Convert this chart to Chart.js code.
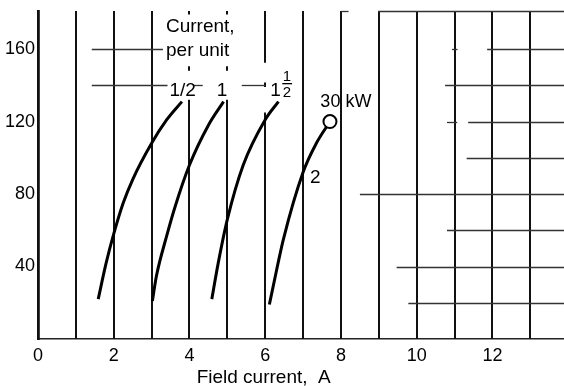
<!DOCTYPE html>
<html>
<head>
<meta charset="utf-8">
<script src="https://cdn.jsdelivr.net/npm/chart.js@4/dist/chart.umd.min.js"></script>
<style>
  html, body { margin: 0; padding: 0; background: #fff; overflow: hidden; }
  #wrap { position: relative; width: 564px; height: 386px; }
  #myChart { display: block; }
</style>
</head>
<body>
<div id="wrap"><canvas id="myChart"></canvas></div>
<script>
// curves, one per current (per unit); x = field current A, y = output
var halfX = [1.59, 1.8, 2.0, 2.25, 2.5, 3.0, 3.4, 3.8];
var halfY = [22, 42, 58, 75, 88, 108, 121, 131];
var oneX = [3.02, 3.13, 3.40, 3.62, 4.0, 4.5, 4.9];
var oneY = [21, 35, 57, 73, 96, 118, 131];
var oneHalfX = [4.59, 4.76, 5.0, 5.42, 6.0, 6.35];
var oneHalfY = [22, 42, 66, 96, 121, 131];
var twoX = [6.11, 6.29, 6.48, 7.0, 7.35, 7.71];
var twoY = [19, 37, 55, 92, 108, 120];
var ratedX = [7.71]; // 30 kW point
var ratedY = [120];

var xMin = 0, xMax = 13.89;
var yMin = 0, yMax = 181;
var xTicks = [0, 2, 4, 6, 8, 10, 12];
var yTicks = [40, 80, 120, 160];

// broken grid of the original drawing: [y, xFrom, xTo] and [x, yFrom, yTo]
var hGrid = [
  [160, 1.42, 3.3], [160, 10.93, 11.08], [160, 11.86, xMax],
  [140, 1.42, 3.42], [140, 4.1, 4.35], [140, 5.38, 6.0], [140, 10.75, xMax],
  [120, 10.8, 11.07], [120, 11.36, xMax],
  [100, 11.32, xMax],
  [80, 8.5, xMax],
  [60, 10.8, xMax],
  [40, 9.47, xMax],
  [20, 9.78, xMax],
  [yMax, 8.0, 8.2], [yMax, 8.98, xMax]
];
var vGrid = [
  [1, 0, yMax], [2, 0, yMax], [3, 0, yMax],
  [4, 0, 132], [4, 148, 150.5], [4, 179, yMax],
  [5, 0, 132], [5, 148, 150.5], [5, 179, yMax],
  [6, 0, 125], [6, 139, 141.5], [6, 152.5, yMax],
  [7, 0, yMax], [8, 0, yMax], [9, 0, yMax], [10, 0, yMax],
  [11, 0, yMax], [12, 0, yMax], [13, 0, yMax]
];

var FONT = "'Liberation Sans', Arial, sans-serif";

function pts(xs, ys) {
  return xs.map(function (x, i) { return { x: x, y: ys[i] }; });
}

function curve(xs, ys) {
  return {
    data: pts(xs, ys),
    showLine: true,
    borderColor: '#000',
    borderWidth: 3,
    pointRadius: 0,
    cubicInterpolationMode: 'monotone',
    order: 2
  };
}

var gridPlugin = {
  id: 'brokenGrid',
  beforeDatasetsDraw: function (chart) {
    var ctx = chart.ctx, xs = chart.scales.x, ys = chart.scales.y;
    ctx.save();
    ctx.strokeStyle = '#111';
    ctx.lineWidth = 2;
    vGrid.forEach(function (g) {
      var px = Math.round(xs.getPixelForValue(g[0]));
      ctx.beginPath();
      ctx.moveTo(px, ys.getPixelForValue(g[1]));
      ctx.lineTo(px, ys.getPixelForValue(g[2]));
      ctx.stroke();
    });
    ctx.strokeStyle = '#333';
    ctx.lineWidth = 1.3;
    hGrid.forEach(function (g) {
      var py = Math.round(ys.getPixelForValue(g[0])) + 0.5;
      ctx.beginPath();
      ctx.moveTo(xs.getPixelForValue(g[1]), py);
      ctx.lineTo(xs.getPixelForValue(g[2]), py);
      ctx.stroke();
    });
    ctx.restore();
  },
  afterDatasetsDraw: function (chart) {
    var ctx = chart.ctx, xs = chart.scales.x, ys = chart.scales.y;
    function X(v) { return xs.getPixelForValue(v); }
    function Y(v) { return ys.getPixelForValue(v); }
    ctx.save();
    ctx.fillStyle = '#000';
    ctx.textBaseline = 'alphabetic';
    ctx.font = '19px ' + FONT;
    ctx.textAlign = 'left';
    ctx.fillText('Current,', X(3.38), Y(169.2));
    ctx.fillText('per unit', X(3.38), Y(156));
    ctx.textAlign = 'center';
    ctx.fillText('1/2', X(3.82), Y(133.9));
    ctx.fillText('1', X(4.86), Y(133.9));
    ctx.fillText('1', X(6.27), Y(133.9));
    ctx.fillText('2', X(7.32), Y(86.2));
    ctx.font = '18px ' + FONT;
    ctx.fillText('30 kW', X(8.13), Y(128.3));
    // stacked 1/2
    ctx.font = '15px ' + FONT;
    ctx.fillText('1', X(6.57), Y(142.2));
    ctx.fillText('2', X(6.57), Y(133.3));
    ctx.lineWidth = 1.3;
    ctx.strokeStyle = '#000';
    ctx.beginPath();
    ctx.moveTo(X(6.45), Y(140.9));
    ctx.lineTo(X(6.71), Y(140.9));
    ctx.stroke();
    // axis title
    ctx.font = '19px ' + FONT;
    ctx.fillText('Field current,  A', X(5.96), chart.chartArea.bottom + 44);
    ctx.restore();
  }
};

var myChart = document.getElementById('myChart').getContext('2d');
var FieldChart = new Chart(myChart, {
  type: 'scatter',
  data: {
    datasets: [
      {
        data: pts(ratedX, ratedY),
        pointRadius: 6.5,
        pointBackgroundColor: '#fff',
        pointBorderColor: '#000',
        pointBorderWidth: 2,
        showLine: false,
        order: 1
      },
      curve(halfX, halfY),
      curve(oneX, oneY),
      curve(oneHalfX, oneHalfY),
      curve(twoX, twoY)
    ]
  },
  options: {
    responsive: true,
    maintainAspectRatio: false,
    animation: false,
    layout: { autoPadding: false, padding: { top: 11, left: 0, right: 0, bottom: 0 } },
    plugins: {
      legend: { display: false },
      tooltip: { enabled: false },
      title: { display: false }
    },
    scales: {
      x: {
        type: 'linear',
        min: xMin,
        max: xMax,
        grid: { display: false, drawTicks: false, tickLength: 0 },
        border: { display: true, color: '#222', width: 1.6 },
        afterFit: function (s) { s.height = 47; s.paddingLeft = 0; s.paddingRight = 0; },
        afterBuildTicks: function (s) {
          s.ticks = xTicks.map(function (v) { return { value: v }; });
        },
        ticks: {
          autoSkip: false,
          maxRotation: 0,
          padding: 6,
          color: '#000',
          font: { family: FONT, size: 18 }
        }
      },
      y: {
        type: 'linear',
        min: yMin,
        max: yMax,
        grid: { display: false, drawTicks: false, tickLength: 0 },
        border: { display: true, color: '#111', width: 2.8 },
        afterFit: function (s) { s.width = 38; s.paddingTop = 0; s.paddingBottom = 0; },
        afterBuildTicks: function (s) {
          s.ticks = yTicks.map(function (v) { return { value: v }; });
        },
        ticks: {
          autoSkip: false,
          padding: 3,
          color: '#000',
          font: { family: FONT, size: 18 }
        }
      }
    }
  },
  plugins: [gridPlugin]
});
</script>
</body>
</html>
